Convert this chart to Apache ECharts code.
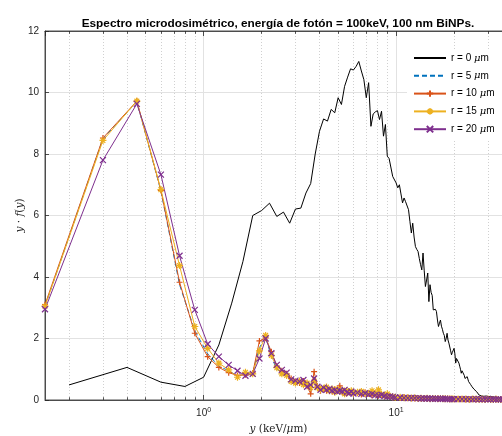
<!DOCTYPE html>
<html>
<head>
<meta charset="utf-8">
<script src="https://cdn.jsdelivr.net/npm/echarts@6/dist/echarts.min.js"></script>
<style>
html,body{margin:0;padding:0;background:#fff;}
#chart{width:502px;height:436px;}
</style>
</head>
<body>
<div id="chart"></div>
<script>
// r = 0 um curve (vertices)
var blackX = [0.2,0.4,0.6,0.8,1.0,1.2,1.4,1.6,1.8,2.0,2.2,2.4,2.6,2.8,3.0,3.2,3.4,3.6,3.8,4.0,
  4.2,4.4,4.6,4.8,5.0,5.2,5.4,5.6,5.8,6.0,6.2,6.4,6.6,6.8,7.0,7.2,7.4,7.6,7.8,8.0,
  8.2,8.4,8.6,8.8,9.0,9.2,9.4,9.6,9.8,10.0,10.2,10.4,10.6,10.8,11.0,11.2,11.4,11.6,11.8,12.0,
  12.2,12.4,12.6,12.8,13.0,13.2,13.4,13.6,13.8,14.0,14.2,14.4,14.6,14.8,15.0,15.2,15.4,15.6,15.8,16.0,
  16.2,16.4,16.6,16.8,17.0,17.2,17.4,17.6,17.8,18.0,18.2,18.4,18.6,18.8,19.0,19.2,19.4,19.6,19.8,20.0,
  20.2,20.4,20.6,20.8,21.0,21.2,21.4,21.6,21.8,22.0,22.2,22.4,22.6,22.8,23.0,23.2,23.4,23.6,23.8,24.0,
  24.2,24.4,24.6,24.8,25.0,25.4,25.8,26.2,26.6,27.0,27.4,27.8,28.6,29.4,30.2,31,32,33,34,35,36];
var blackY = [0.49,1.06,0.58,0.44,0.74,1.79,3.15,4.5,6.0,6.16,6.4,5.97,6.11,5.75,6.21,6.24,6.73,7.04,8.0,8.74,
  9.14,9.07,9.45,9.34,9.83,9.61,10.2,10.5,10.77,10.73,10.85,11.01,10.7,10.42,9.83,10.32,8.9,9.3,9.37,9.41,
  9.12,9.39,8.58,8.96,7.93,7.85,7.82,7.27,7.22,7.06,6.9,7.0,6.7,6.41,6.57,6.45,6.41,6.19,5.8,5.43,
  5.75,5.3,4.99,4.9,4.83,4.6,4.4,4.23,4.78,4.2,3.69,3.9,4.13,3.2,3.75,3.5,3.4,2.93,2.9,2.95,
  2.88,2.6,2.39,2.5,2.6,2.4,2.3,2.17,2.1,1.9,2.0,2.17,1.95,1.85,1.8,1.6,1.47,1.55,1.6,1.68,
  1.5,1.2,1.35,1.3,1.3,1.2,1.1,1.0,0.87,0.95,0.98,0.9,0.8,0.7,0.65,0.72,0.76,0.68,0.6,0.55,
  0.54,0.5,0.45,0.43,0.43,0.35,0.3,0.27,0.22,0.16,0.14,0.13,0.12,0.13,0.11,0.12,0.1,0.09,0.08,0.07,0.07];

// bins shared by the r = 5..20 um curves
var binX = [0.15,0.3,0.45,0.6,0.75,0.9,1.05,1.2,1.35,1.5,1.65,1.8,1.95,2.1,2.25,2.4,2.55,2.7,2.85,3,
  3.15,3.3,3.45,3.6,3.75,3.9,4.05,4.2,4.35,4.5,4.65,4.8,4.95,5.1,5.25,5.4,5.55,5.7,5.85,6,
  6.3,6.6,6.9,7.2,7.5,7.8,8.1,8.4,8.7,9,9.3,9.6,9.9,
  10.5,11,11.5,12,12.5,13,13.5,14,14.5,15,15.5,16,16.5,17,17.5,18,18.5,19,19.5,20,
  21,22,23,24,25,26,27,28,29,30,31,32,33,34,35,36];
var r5 = [3.05,8.5,9.7,6.8,3.75,2.25,1.5,1.1,0.95,0.78,0.85,0.9,1.7,2.05,1.4,1.0,0.9,0.82,0.65,0.6,
  0.55,0.6,0.5,0.45,0.75,0.45,0.3,0.35,0.35,0.32,0.3,0.3,0.28,0.32,0.3,0.26,0.25,0.3,0.22,0.24,
  0.2,0.22,0.18,0.2,0.17,0.15,0.16,0.14,0.13,0.22,0.11,0.09,0.08,
  0.06,0.08,0.06,0.15,0.05,0.05,0.06,0.04,0.05,0.04,0.04,0.05,0.04,0.04,0.03,0.04,0.03,0.04,0.03,0.03,
  0.03,0.02,0.03,0.03,0.02,0.03,0.02,0.03,0.02,0.02,0.03,0.02,0.02,0.02,0.02,0.02];
var r10 = [3.1,8.52,9.72,6.82,3.83,2.17,1.41,1.06,0.89,0.8,0.82,0.88,1.92,2.02,1.57,1.1,0.95,0.85,0.7,0.6,
  0.55,0.62,0.45,0.2,0.92,0.45,0.3,0.35,0.3,0.33,0.28,0.35,0.3,0.46,0.25,0.3,0.22,0.28,0.24,0.2,
  0.22,0.18,0.25,0.2,0.15,0.18,0.14,0.16,0.12,0.12,0.1,0.09,0.08,
  0.07,0.1,0.06,0.07,0.05,0.06,0.05,0.05,0.04,0.05,0.04,0.04,0.05,0.03,0.04,0.04,0.03,0.04,0.03,0.03,
  0.03,0.03,0.02,0.03,0.03,0.02,0.03,0.02,0.02,0.03,0.02,0.02,0.02,0.02,0.02,0.02];
var r15 = [3.05,8.44,9.72,6.84,4.37,2.39,1.68,1.2,0.98,0.74,0.9,0.85,1.6,2.1,1.45,1.05,0.85,0.8,0.6,0.55,
  0.62,0.5,0.55,0.4,0.6,0.4,0.35,0.38,0.42,0.3,0.36,0.25,0.35,0.3,0.32,0.2,0.3,0.26,0.3,0.25,
  0.25,0.28,0.2,0.22,0.3,0.2,0.33,0.18,0.15,0.2,0.12,0.1,0.09,
  0.09,0.07,0.08,0.06,0.07,0.05,0.06,0.05,0.06,0.04,0.05,0.05,0.04,0.05,0.04,0.04,0.04,0.03,0.04,0.03,
  0.03,0.03,0.03,0.02,0.03,0.03,0.02,0.03,0.02,0.03,0.02,0.02,0.03,0.02,0.02,0.02];
var r20 = [2.95,7.8,9.63,7.33,4.69,2.93,1.82,1.41,1.14,0.95,0.79,0.85,1.35,2.0,1.52,1.14,0.98,0.89,0.67,0.63,
  0.6,0.65,0.43,0.49,0.7,0.43,0.33,0.4,0.33,0.36,0.3,0.32,0.27,0.3,0.28,0.33,0.25,0.22,0.27,0.21,
  0.24,0.2,0.22,0.18,0.2,0.16,0.15,0.17,0.13,0.11,0.12,0.1,0.08,
  0.08,0.07,0.06,0.07,0.06,0.06,0.05,0.05,0.05,0.05,0.04,0.04,0.04,0.04,0.04,0.04,0.03,0.03,0.03,0.03,
  0.03,0.03,0.03,0.03,0.02,0.03,0.03,0.02,0.03,0.02,0.02,0.03,0.02,0.02,0.02,0.02];

var seriesNames = ['r = 0 μm','r = 5 μm','r = 10 μm','r = 15 μm','r = 20 μm'];
var minorX = [0.2,0.3,0.4,0.5,0.6,0.7,0.8,0.9,2,3,4,5,6,7,8,9,20,30];

var AX = '#262626';

function pairs(xs, ys){
  var out = [];
  for (var i = 0; i < xs.length; i++) out.push([xs[i], ys[i]]);
  return out;
}

// dotted minor grid + small inward minor ticks (bottom and top)
var markData = [];
minorX.forEach(function(v){ markData.push({xAxis: v}); });
minorX.forEach(function(v){
  markData.push([{coord:[v,0], lineStyle:{type:'solid', color:AX, width:0.8}}, {coord:[v,0.09]}]);
  markData.push([{coord:[v,12], lineStyle:{type:'solid', color:AX, width:0.8}}, {coord:[v,11.91]}]);
});

var plusSym = 'path://M5,0L5,10M0,5L10,5';
var starSym = 'path://M5,0L5,10M0,5L10,5M1.6,1.6L8.4,8.4M1.6,8.4L8.4,1.6';
var crossSym = 'path://M0,0L10,10M0,10L10,0';

function marked(name, color, ys, sym, size){
  return {
    name: name, type: 'line', data: pairs(binX, ys), color: color,
    symbol: sym, symbolSize: size, showSymbol: true, clip: false,
    lineStyle: {color: color, width: 1},
    itemStyle: {color: color, borderColor: color, borderWidth: 1.2}
  };
}

var legendData = seriesNames.map(function(n, i){
  return i < 2 ? {name: n, itemStyle: {opacity: 0}} : {name: n};
});

var chart = echarts.init(document.getElementById('chart'));
chart.setOption({
  animation: false,
  backgroundColor: '#fff',
  title: {
    text: 'Espectro microdosimétrico, energía de fotón = 100keV, 100 nm BiNPs.',
    left: 273, top: 13, textAlign: 'center',
    textStyle: {fontFamily: 'Liberation Sans', fontSize: 11.8, fontWeight: 'bold', color: '#000'}
  },
  legend: {
    orient: 'vertical', left: 407, top: 50,
    padding: [3, 20, 5, 6],
    backgroundColor: '#fff',
    itemWidth: 32, itemHeight: 8, itemGap: 7.8,
    data: legendData,
    formatter: function(n){ return n.replace('μ', '{m|μ}'); },
    textStyle: {
      fontFamily: 'Liberation Sans', fontSize: 10, color: '#000',
      rich: {m: {fontFamily: 'DejaVu Serif', fontStyle: 'italic', fontSize: 10}}
    }
  },
  grid: {left: 45, right: -10, top: 31, bottom: 36, outerBoundsMode: 'none', containLabel: false,
    show: true, borderColor: AX, borderWidth: 0.8, backgroundColor: '#fff'},
  xAxis: [{
    type: 'log', logBase: 10, min: 0.15, max: 40,
    name: '{i|y} (keV/{i|μ}m)', nameLocation: 'middle', nameGap: 22,
    nameTextStyle: {
      fontFamily: 'DejaVu Serif', fontSize: 10.5, color: AX,
      rich: {i: {fontFamily: 'DejaVu Serif', fontStyle: 'italic', fontSize: 10.5, color: AX}}
    },
    axisLine: {show: true, lineStyle: {color: AX, width: 0.8}},
    axisTick: {show: true, inside: true, length: 5, lineStyle: {color: AX, width: 0.8}},
    axisLabel: {
      showMinLabel: false, showMaxLabel: false, margin: 7,
      color: AX, fontFamily: 'Liberation Sans', fontSize: 10,
      formatter: function(v){
        var e = Math.log(v) / Math.LN10;
        if (Math.abs(e - Math.round(e)) > 1e-6) return '';
        return '10{s|' + Math.round(e) + '}';
      },
      rich: {s: {fontSize: 7, verticalAlign: 'top', padding: [0,0,6,0], color: AX}}
    },
    splitLine: {show: true, lineStyle: {color: '#e2e2e2', width: 1}}
  }, {
    type: 'log', logBase: 10, min: 0.15, max: 40, position: 'top',
    axisLine: {show: true, lineStyle: {color: AX, width: 0.8}},
    axisTick: {show: true, inside: true, length: 5, lineStyle: {color: AX, width: 0.8}},
    axisLabel: {show: false},
    splitLine: {show: false}
  }],
  yAxis: {
    type: 'value', min: 0, max: 12, interval: 2,
    name: '{i|y} · {i|f}({i|y})', nameLocation: 'middle', nameGap: 19, nameMoveOverlap: false,
    nameTextStyle: {
      fontFamily: 'DejaVu Serif', fontSize: 10.5, color: AX,
      rich: {i: {fontFamily: 'DejaVu Serif', fontStyle: 'italic', fontSize: 10.5, color: AX}}
    },
    axisLine: {show: true, lineStyle: {color: AX, width: 0.8}},
    axisTick: {show: true, inside: true, length: 4, lineStyle: {color: AX, width: 0.8}},
    axisLabel: {color: AX, fontFamily: 'Liberation Sans', fontSize: 10, margin: 6},
    splitLine: {show: true, lineStyle: {color: '#e2e2e2', width: 1}}
  },
  series: [
    {
      name: seriesNames[0], type: 'line', data: pairs(blackX, blackY), color: '#000',
      symbol: 'none', lineStyle: {color: '#000', width: 1},
      markLine: {
        silent: true, symbol: 'none', z: 1, animation: false,
        label: {show: false},
        lineStyle: {color: '#d0d0d0', type: [1, 2], width: 1},
        data: markData
      }
    },
    {
      name: seriesNames[1], type: 'line', data: pairs(binX, r5), color: '#0072BD',
      symbol: 'none', lineStyle: {color: '#0072BD', width: 1, type: [5, 3]}
    },
    marked(seriesNames[2], '#D95319', r10, plusSym, 6),
    marked(seriesNames[3], '#EDB120', r15, starSym, 7),
    marked(seriesNames[4], '#7E2F8E', r20, crossSym, 6)
  ]
});
</script>
</body>
</html>
